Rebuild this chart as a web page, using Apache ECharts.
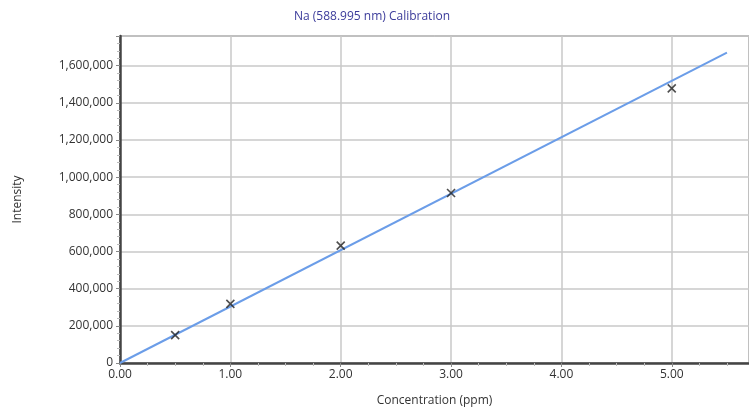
<!DOCTYPE html>
<html>
<head>
<meta charset="utf-8">
<script src="https://cdn.jsdelivr.net/npm/echarts@6/dist/echarts.min.js"></script>
<style>
  html, body { margin: 0; padding: 0; background: #fff; }
  #chart { width: 749px; height: 416px; }
</style>
</head>
<body>
<div id="chart"></div>
<script>
// measured standards (ppm, intensity)
var stdConc = [0.5, 1, 2, 3, 5];
var stdIntensity = [150000, 318000, 632000, 915000, 1478000];
// calibration line end points
var fitConc = [0, 5.5];
var fitIntensity = [0, 1670000];

var chart = echarts.init(document.getElementById('chart'));

var points = stdConc.map(function (c, i) { return [c, stdIntensity[i]]; });
var fit = fitConc.map(function (c, i) { return [c, fitIntensity[i]]; });

var font = '"Open Sans", "Noto Sans", sans-serif';

var option = {
    animation: false,
    title: {
        text: 'Na (588.995 nm) Calibration',
        left: 367,
        textAlign: 'center',
        top: 6,
        textStyle: { color: '#3b3b9a', fontSize: 12, fontWeight: 'normal', fontFamily: font }
    },
    grid: {
        left: 120, right: 0, top: 36, bottom: 53,
        show: true, borderColor: '#555', borderWidth: 1
    },
    xAxis: {
        type: 'value',
        min: 0, max: 5.7, interval: 1,
        name: 'Concentration (ppm)',
        nameLocation: 'middle',
        nameGap: 32,
        nameTextStyle: { color: '#333', fontSize: 12, fontFamily: font },
        axisLine: { show: true, lineStyle: { color: '#444', width: 2.5 } },
        axisTick: { show: true, length: 4, lineStyle: { color: '#888' } },
        minorTick: { show: true, splitNumber: 4, length: 3, lineStyle: { color: '#bbb' } },
        axisLabel: {
            color: '#333', fontSize: 12, fontFamily: font, margin: 6,
            showMaxLabel: false,
            formatter: function (v) { return v.toFixed(2); }
        },
        splitLine: { show: true, lineStyle: { color: '#c8c8c8', width: 1.5 } }
    },
    yAxis: {
        type: 'value',
        min: 0, max: 1760000, interval: 200000,
        name: 'Intensity',
        nameLocation: 'middle',
        nameGap: 96,
        nameTextStyle: { color: '#333', fontSize: 12, fontFamily: font },
        axisLine: { show: true, lineStyle: { color: '#444', width: 2.5 } },
        axisTick: { show: true, length: 4, lineStyle: { color: '#888' } },
        minorTick: { show: true, splitNumber: 5, length: 3, lineStyle: { color: '#bbb' } },
        axisLabel: {
            color: '#333', fontSize: 12, fontFamily: font, margin: 7,
            showMaxLabel: false,
            formatter: function (v) { return v.toLocaleString('en-US'); }
        },
        splitLine: { show: true, lineStyle: { color: '#c8c8c8', width: 1.5 } }
    },
    series: [
        {
            name: 'fit',
            type: 'line',
            data: fit,
            showSymbol: false,
            symbol: 'none',
            lineStyle: { color: '#6b9de8', width: 2 },
            z: 2
        },
        {
            name: 'standards',
            type: 'scatter',
            data: points,
            symbol: 'path://M0,0 L10,10 M10,0 L0,10',
            symbolSize: 8,
            itemStyle: { color: 'rgba(0,0,0,0)', borderColor: '#222', borderWidth: 1.6 },
            z: 3
        }
    ]
};

chart.setOption(option);
</script>
</body>
</html>
